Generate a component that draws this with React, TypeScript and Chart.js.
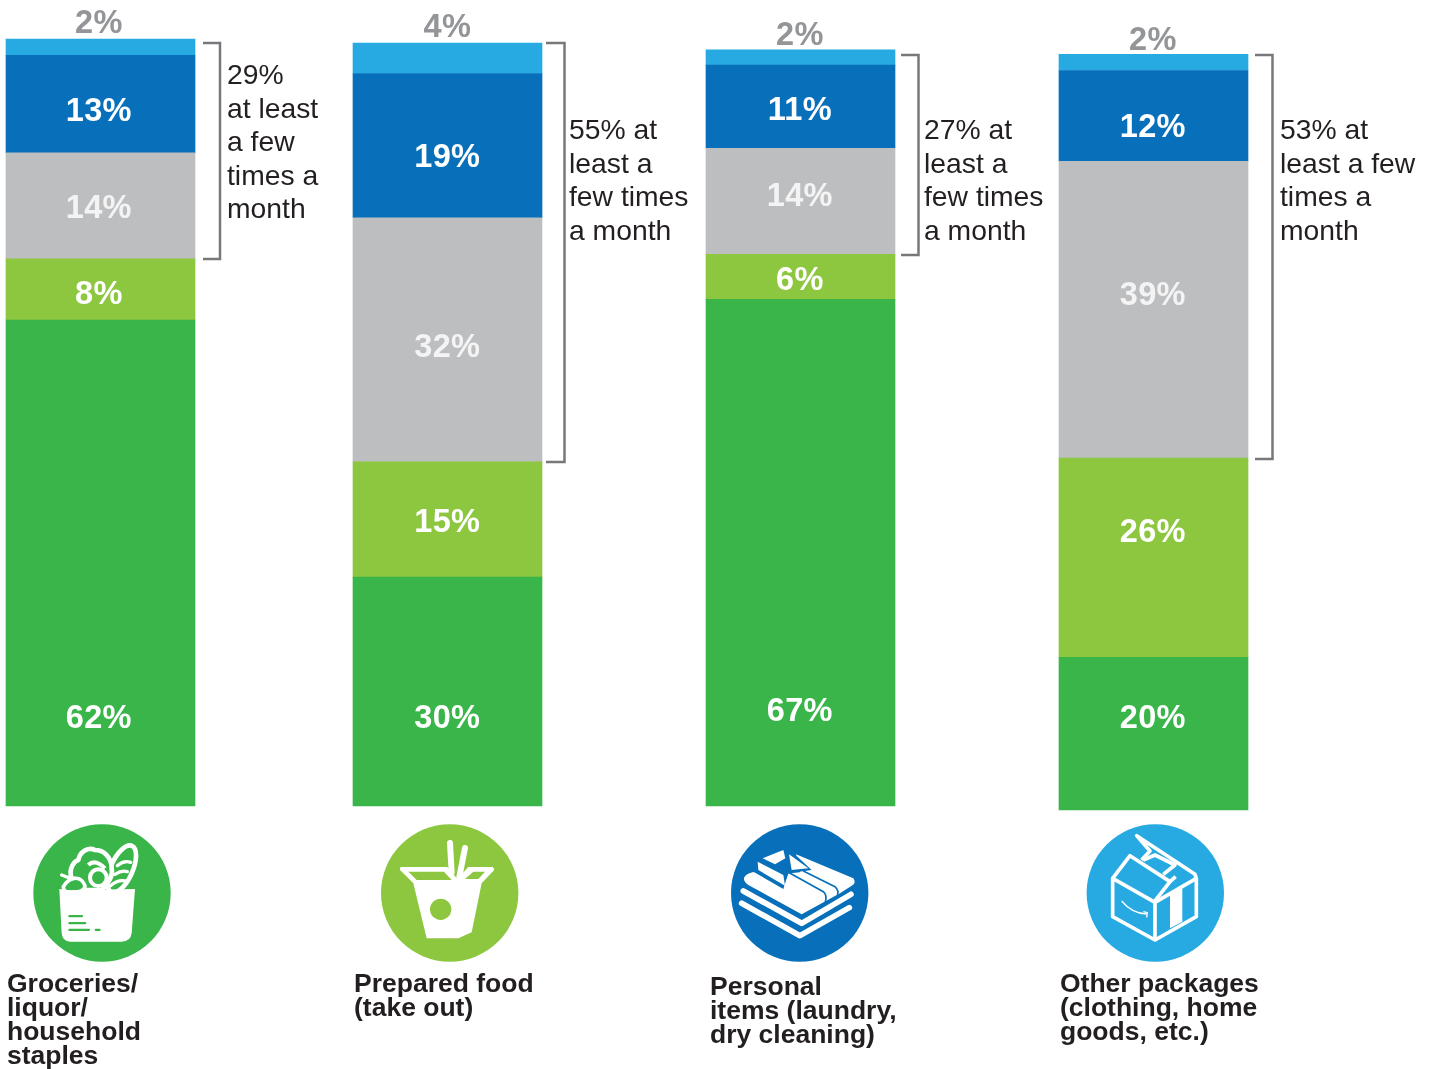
import React, { useEffect, useRef } from "react";
import { Chart, registerables } from "chart.js";

Chart.register(...registerables);

// ---- data ----
const categories = [
  ["Groceries/", "liquor/", "household", "staples"],
  ["Prepared food", "(take out)"],
  ["Personal", "items (laundry,", "dry cleaning)"],
  ["Other packages", "(clothing, home", "goods, etc.)"],
];
// segment lengths as drawn, bottom to top
const bandA = [63.7, 30.0, 66.4, 20.0];
const bandB = [8.0, 15.1, 5.9, 26.1];
const bandC = [13.9, 32.0, 13.9, 38.9];
const bandD = [12.8, 18.9, 10.9, 11.9];
const bandE = [2.1, 4.0, 2.0, 2.1];
const columnBase = [0, 0, 0, -0.5];
// printed labels
const labelA = ["62%", "30%", "67%", "20%"];
const labelB = ["8%", "15%", "6%", "26%"];
const labelC = ["14%", "32%", "14%", "39%"];
const labelD = ["13%", "19%", "11%", "12%"];
const labelE = ["2%", "4%", "2%", "2%"];
const notes = [
  ["29%", "at least", "a few", "times a", "month"],
  ["55% at", "least a", "few times", "a month"],
  ["27% at", "least a", "few times", "a month"],
  ["53% at", "least a few", "times a", "month"],
];

// ---- layout ----
const W = 1432;
const H = 1069;
const columnX = [100.5, 447.5, 800.5, 1153.5];
const PX = 7.63;
const ZERO_Y = 806;
const Y_MIN = -1;
const Y_MAX = 102;
const labelCx = [98.8, 447.3, 799.8, 1152.8];
const baselinesA = [728, 728, 721, 728];
const baselinesB = [304, 532, 290, 542];
const baselinesC = [218, 357, 206, 305];
const baselinesD = [121, 167, 120, 137];
const baselinesE = [33, 37, 45, 50];
const brackets = [
  { x0: 203, x1: 220, y0: 43, y1: 259 },
  { x0: 546, x1: 564.5, y0: 43, y1: 462 },
  { x0: 901, x1: 918.5, y0: 55, y1: 255 },
  { x0: 1255, x1: 1272.5, y0: 55, y1: 459 },
];
const noteX = [227, 569, 924, 1280];
const noteY = [84, 139, 139, 139];
const catX = [7, 354, 710, 1060];
const catY = [992, 992, 995, 992];

const GREEN = "#39B54A";
const LIME = "#8DC63F";
const GREY = "#BCBEC0";
const BLUE = "#0870BA";
const CYAN = "#27AAE1";

const bands = [bandA, bandB, bandC, bandD, bandE];
const bandColors = [GREEN, LIME, GREY, BLUE, CYAN];
const bandNames = ["Band A", "Band B", "Band C", "Band D", "Band E"];

function floating(level: number) {
  return columnX.map((x, i) => {
    let lo = columnBase[i];
    for (let k = 0; k < level; k++) lo += bands[k][i];
    return { x, y: [lo, lo + bands[level][i]] };
  });
}

const textPlugin = {
  id: "chartText",
  afterDraw(chart: any) {
    const ctx = chart.ctx as CanvasRenderingContext2D;
    ctx.save();
    ctx.textBaseline = "alphabetic";
    // values on the bars
    ctx.textAlign = "center";
    ctx.font = 'bold 32.5px "Liberation Sans", Arial, sans-serif';
    (ctx as any).letterSpacing = "0.3px";
    const rows: [string[], number[], string][] = [
      [labelA, baselinesA, "#FFFFFF"],
      [labelB, baselinesB, "#FFFFFF"],
      [labelC, baselinesC, "#F4F4F5"],
      [labelD, baselinesD, "#FFFFFF"],
      [labelE, baselinesE, "#939598"],
    ];
    rows.forEach(([txt, ys, col]) => {
      ctx.fillStyle = col;
      txt.forEach((t, i) => ctx.fillText(t, labelCx[i], ys[i]));
    });
    (ctx as any).letterSpacing = "0px";
    // brackets
    ctx.strokeStyle = "#77787B";
    ctx.lineWidth = 2.5;
    brackets.forEach((b) => {
      ctx.beginPath();
      ctx.moveTo(b.x0, b.y0);
      ctx.lineTo(b.x1, b.y0);
      ctx.lineTo(b.x1, b.y1);
      ctx.lineTo(b.x0, b.y1);
      ctx.stroke();
    });
    // notes
    ctx.textAlign = "left";
    ctx.fillStyle = "#231F20";
    ctx.font = '28.3px "Liberation Sans", Arial, sans-serif';
    notes.forEach((lines, i) => {
      lines.forEach((l, j) => ctx.fillText(l, noteX[i], noteY[i] + j * 33.5));
    });
    // category names
    ctx.font = 'bold 26.5px "Liberation Sans", Arial, sans-serif';
    categories.forEach((lines, i) => {
      lines.forEach((l, j) => ctx.fillText(l, catX[i], catY[i] + j * 24));
    });
    ctx.restore();
  },
};

function Icons() {
  return (
    <svg
      width={W}
      height={H}
      style={{ position: "absolute", left: 0, top: 0, pointerEvents: "none" }}
    >
      {/* groceries */}
      <circle cx={102} cy={893} r={68.7} fill={GREEN} />
      <g transform="translate(20 815) scale(0.3333)">
        <g transform="rotate(24 305 162)">
          <ellipse cx={305} cy={162} rx={33} ry={76} fill={GREEN} stroke="#fff" strokeWidth={14} />
        </g>
        <path d="M292 152 Q312 135 332 142 M272 212 Q298 190 322 200 M285 178 Q305 165 322 170" stroke="#fff" strokeWidth={10} fill="none" strokeLinecap="round" />
        <path d="M155 190 C145 165 160 140 175 135 C180 110 205 95 225 105 C250 105 275 125 275 160 C280 180 265 205 245 225 L160 225 Z" fill={GREEN} stroke="#fff" strokeWidth={14} strokeLinejoin="round" />
        <path d="M205 150 Q225 130 255 160" stroke="#fff" strokeWidth={12} fill="none" />
        <circle cx={235} cy={188} r={25} fill={GREEN} stroke="#fff" strokeWidth={12} />
        <path d="M125 180 L150 190" stroke="#fff" strokeWidth={10} strokeLinecap="round" />
        <path d="M130 215 C145 190 180 175 195 212 C195 228 170 232 150 232 C135 232 130 225 130 215 Z" fill={GREEN} stroke="#fff" strokeWidth={11} />
        <path d="M118 222 L150 226 L345 222 L335 355 Q332 380 305 380 L150 380 Q128 380 125 355 Z" fill="#fff" />
        <g fill={GREEN}>
          <rect x={145} y={300} width={44} height={7} rx={3} />
          <rect x={145} y={321} width={54} height={7} rx={3} />
          <rect x={145} y={341} width={65} height={7} rx={3} />
          <rect x={224} y={341} width={18} height={7} rx={3} />
        </g>
      </g>
      {/* prepared food */}
      <circle cx={449.7} cy={893} r={68.7} fill={LIME} />
      <g transform="translate(370 815) scale(0.3333)">
        <path d="M240 84 L245 172" stroke="#fff" strokeWidth={18} strokeLinecap="round" />
        <path d="M285 99 L268 186" stroke="#fff" strokeWidth={18} strokeLinecap="round" />
        <path d="M90 160 Q90 156 95 156 L232 156 L262 192 L295 156 L368 156 Q374 160 372 166 L335 205 L305 352 L265 370 L170 370 L130 205 L90 165 Z" fill="#fff" />
        <path d="M115 170 L222 170 L245 195 L140 195 Z" fill={LIME} />
        <path d="M310 170 L345 170 L325 192 L285 192 Z" fill={LIME} />
        <circle cx={212} cy={283} r={32} fill={LIME} />
      </g>
      {/* personal items */}
      <circle cx={799.7} cy={893} r={68.7} fill={BLUE} />
      <g transform="translate(720 815) scale(0.3333)">
        <path d="M65 265 L240 362 L388 278" fill="none" stroke="#fff" strokeWidth={17} strokeLinecap="round" strokeLinejoin="round" />
        <path d="M70 228 L245 325 L393 238" fill="none" stroke="#fff" strokeWidth={17} strokeLinecap="round" strokeLinejoin="round" />
        <path d="M72 188 Q80 172 112 170 L188 213 L205 175 L240 172 L228 118 L400 190 Q410 205 395 212 L360 235 L245 298 L85 210 Q70 200 72 188 Z" fill="#fff" />
        <path d="M205 172 L310 230 Q322 240 316 262 M250 168 L345 215 Q358 228 352 240" fill="none" stroke={BLUE} strokeWidth={5} />
        <path d="M105 125 L205 100 L275 165 L205 175 L190 222 L100 170 Z" fill={BLUE} />
        <path d="M128 130 L190 105 L196 130 L165 148 Z" fill="#fff" />
        <path d="M113 140 L190 180 L195 212 L115 165 Z" fill="#fff" />
        <path d="M207 118 L265 160 L215 165 Z" fill="#fff" />
      </g>
      {/* other packages */}
      <circle cx={1155.3} cy={893} r={68.7} fill={CYAN} />
      <g transform="translate(1075 815) scale(0.3333)" fill="none" stroke="#fff" strokeWidth={11} strokeLinejoin="round">
        <path d="M113 190 L240 262 L240 375 L113 305 Z" />
        <path d="M240 262 L364 190 L364 305 L240 375" />
        <path d="M113 190 L165 122 L285 200 L240 258" />
        <path d="M200 135 L225 108 L185 62 L360 178 L364 190" />
        <path d="M205 135 L240 120 L300 150 L265 178" />
        <path d="M285 200 L302 185" />
        <path d="M285 238 L322 218 L322 320 L285 340 Z" fill="#fff" stroke="none" />
        <path d="M140 258 Q170 295 215 297" strokeWidth={4} />
        <path d="M205 290 L217 293 L215 307" strokeWidth={4} />
      </g>
    </svg>
  );
}

export default function App() {
  const ref = useRef<HTMLCanvasElement>(null);
  useEffect(() => {
    if (!ref.current) return;
    const chart = new Chart(ref.current, {
      type: "bar",
      data: {
        datasets: bands.map((_, level) => ({
          label: bandNames[level],
          data: floating(level) as any,
          backgroundColor: bandColors[level],
          borderWidth: 0,
          barThickness: 189,
          grouped: false,
        })),
      },
      options: {
        animation: false,
        responsive: false,
        layout: {
          padding: {
            left: 0,
            right: 0,
            top: ZERO_Y - Y_MAX * PX,
            bottom: H - (ZERO_Y - Y_MIN * PX),
          },
        },
        plugins: { legend: { display: false }, tooltip: { enabled: false } },
        scales: {
          x: { type: "linear", min: 0, max: W, offset: false, display: false },
          y: { min: Y_MIN, max: Y_MAX, display: false },
        },
      },
      plugins: [textPlugin],
    });
    return () => chart.destroy();
  }, []);
  return (
    <div style={{ position: "absolute", left: 0, top: 0, width: W, height: H, background: "#fff" }}>
      <canvas ref={ref} width={W} height={H} style={{ position: "absolute", left: 0, top: 0, display: "block" }} />
      <Icons />
    </div>
  );
}
